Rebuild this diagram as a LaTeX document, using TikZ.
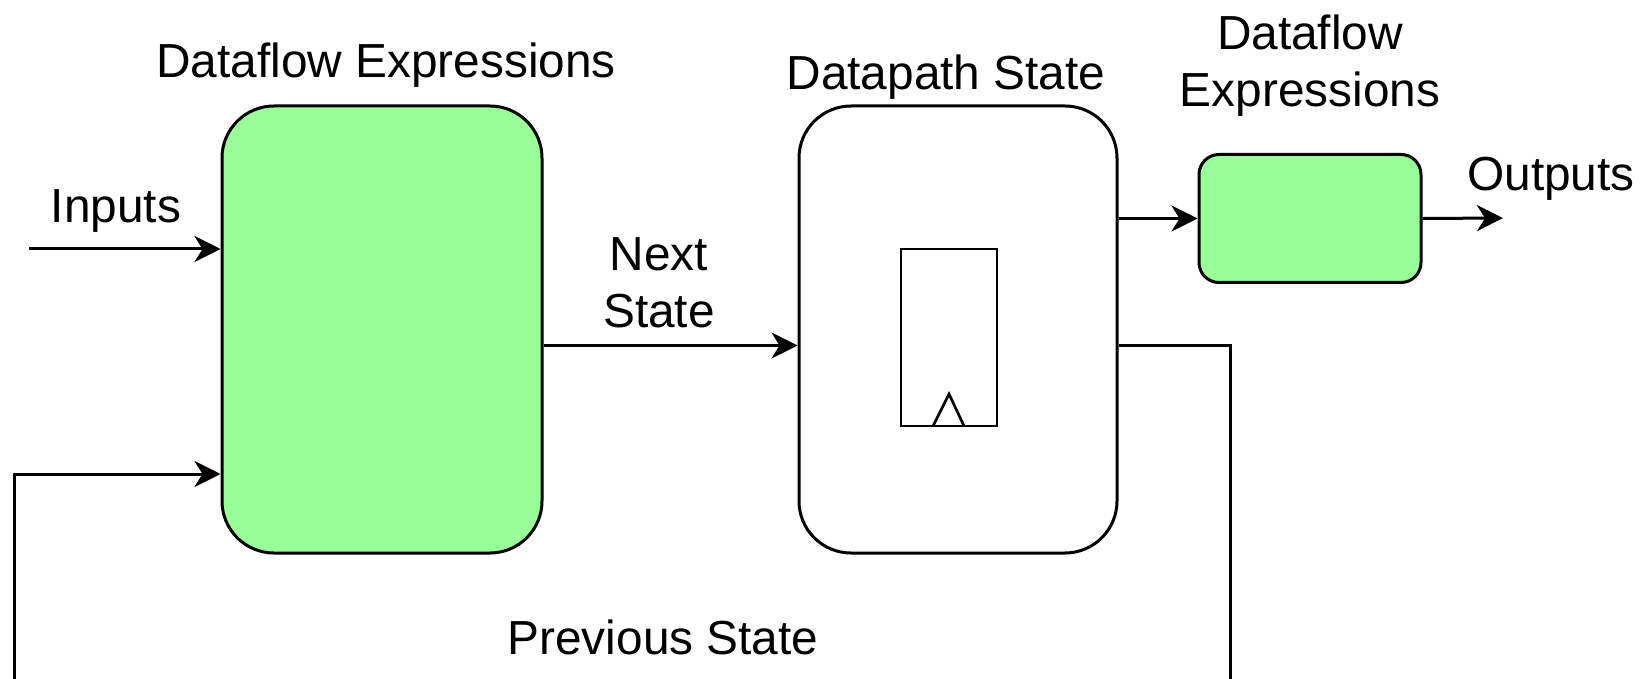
\documentclass[tikz,border=0pt]{standalone}
\usepackage{fontspec}
\setmainfont{Liberation Sans}
\usetikzlibrary{arrows.meta}
\definecolor{blockgreen}{HTML}{99FF99}
\tikzset{
  lbl/.style={inner sep=0pt, font=\fontsize{47.8}{57}\selectfont, align=center},
  block/.style={draw=black, line width=3pt, rounded corners=#1, inner sep=0pt},
  wire/.style={draw=black, line width=3pt},
  arr/.style={wire, -{Stealth[length=26pt, width=26pt, inset=8pt]}},
}
\begin{document}
\begin{tikzpicture}[x=1pt, y=-1pt]
\useasboundingbox (0,0) rectangle (1650,679);
\clip (0,0) rectangle (1650,679);

% blocks
\node[block=52pt, fill=blockgreen, minimum width=320pt, minimum height=447pt] (comb) at (382,329.5) {};
\node[block=52pt, fill=white, minimum width=318pt, minimum height=447pt] (dps) at (958,329.5) {};
\node[block=20pt, fill=blockgreen, minimum width=222pt, minimum height=128pt] (outc) at (1310,218.5) {};

% register symbol inside the state block
\node[draw=black, line width=2.7pt, minimum width=96pt, minimum height=177pt, inner sep=0pt] (reg) at (949,337.5) {};
\coordinate (clkA) at (933,426);
\coordinate (clkB) at (949,394);
\coordinate (clkC) at (964,426);
\draw[line width=2.7pt, line join=miter] (clkA) -- (clkB) -- (clkC);

% labels
\node[lbl, anchor=base] (t1) at (386,78) {Dataflow Expressions};
\node[lbl, anchor=base] (t2) at (946,90) {Datapath State};
\node[lbl] (t3) at (1310,65.5) {Dataflow\\Expressions};
\node[lbl, anchor=base] (t4) at (1551,191) {Outputs};
\node[lbl, anchor=base] (t5) at (116,223) {Inputs};
\node[lbl] (t6) at (659,283) {Next\\State};
\node[lbl, anchor=base] (t7) at (663,654) {Previous State};

% wiring
\coordinate (inStart) at (29,249);
\coordinate (outEnd) at (1503,218);
\coordinate (fbA) at (1230,345.5);
\coordinate (fbB) at (1230,720);
\coordinate (fbC) at (14,720);
\coordinate (fbD) at (14,474);

\draw[arr] (inStart) -- (inStart -| comb.west);
\draw[arr] (comb.east |- 0,345.5) -- (dps.west |- 0,345.5);
\draw[arr] (dps.east |- outc.west) -- (outc.west);
\draw[arr] (outc.east) -- (outEnd);
\draw[arr] (dps.east |- fbA) -- (fbA) -- (fbB) -- (fbC) -- (fbD) -- (fbD -| comb.west);
\end{tikzpicture}
\end{document}
